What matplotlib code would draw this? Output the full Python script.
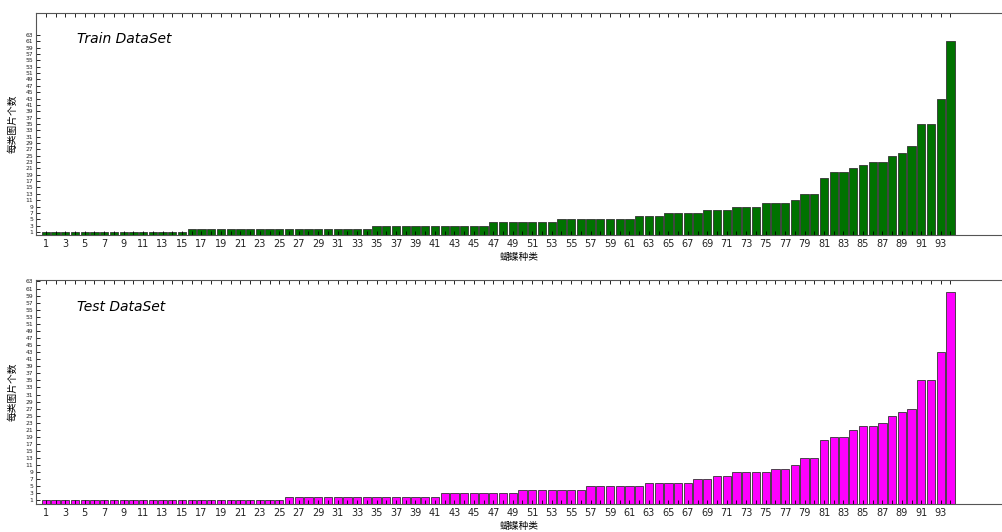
import numpy as np
import matplotlib
matplotlib.use('Agg')
import matplotlib.pyplot as plt

plt.rcParams['font.family'] = ['DejaVu Sans', 'Noto Sans CJK SC']

# number of images per butterfly class, sorted ascending
train_counts = [1] * 15 + [2] * 19 + [3] * 12 + [4] * 7 + [5] * 8 + [6] * 3 + [7] * 4 + \
               [8] * 3 + [9] * 3 + [10] * 3 + [11] + [13] * 2 + [18] + [20] * 2 + [21] + \
               [22] + [23] * 2 + [25] + [26] + [28] + [35] * 2 + [43] + [61]
test_counts = [1] * 25 + [2] * 16 + [3] * 8 + [4] * 7 + [5] * 6 + [6] * 5 + [7] * 2 + \
              [8] * 2 + [9] * 4 + [10] * 2 + [11] + [13] * 2 + [18] + [19] * 2 + [21] + \
              [22] * 2 + [23] + [25] + [26] + [27] + [35] * 2 + [43] + [60]
classes = np.arange(1, len(train_counts) + 1)
ytick_vals = list(range(1, 64, 2))
xtick_labels = [str(c) if c % 2 == 1 else '' for c in classes]

fig = plt.figure(figsize=(10.03, 5.32), dpi=100)
ax1 = fig.add_axes([0.036, 0.558, 0.964, 0.418])
ax2 = fig.add_axes([0.036, 0.0526, 0.964, 0.421])

panels = [(ax1, train_counts, '#007200', 'Train DataSet', 70),
          (ax2, test_counts, '#ff00ff', 'Test DataSet', 63.4)]

for ax, counts, color, title, ytop in panels:
    ax.bar(classes, counts, width=0.85, color=color, edgecolor='#333333', linewidth=0.6)
    ax.set_xlim(0, 99.4)
    ax.set_ylim(0, ytop)
    ax.set_xticks(classes)
    ax.set_xticklabels(xtick_labels, fontsize=7, color='#222222')
    ax.set_yticks(ytick_vals)
    # labels are very dense, keep them small
    ax.set_yticklabels([str(v) for v in ytick_vals], fontsize=4.3, color='#222222')
    ax.tick_params(axis='both', direction='in', length=3, width=0.6, pad=2, top=True)
    ax.tick_params(axis='x', pad=3)
    ax.spines['right'].set_visible(False)
    for s in ['left', 'top', 'bottom']:
        ax.spines[s].set_color('#555555')
        ax.spines[s].set_linewidth(0.8)
    ax.set_ylabel('每类图片个数', fontsize=7, family=['Noto Sans CJK SC'], labelpad=6)
    ax.set_xlabel('蝴蝶种类', fontsize=7, family=['Noto Sans CJK SC'], labelpad=2)
    ax.text(0.042, 0.88, title, transform=ax.transAxes, fontsize=10, style='italic',
            va='center', ha='left')

fig.savefig('out.png', dpi=100)
